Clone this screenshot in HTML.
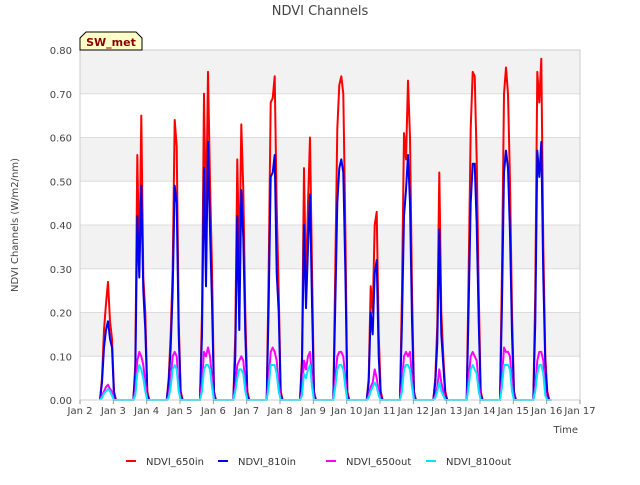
<!DOCTYPE html>
<html><head><meta charset="utf-8"><style>
body{margin:0;background:#fff;font-family:"Liberation Sans","DejaVu Sans",sans-serif}
</style></head><body>
<svg id="chart" width="640" height="480" xmlns="http://www.w3.org/2000/svg" font-family="DejaVu Sans, Liberation Sans, sans-serif">
<rect width="640" height="480" fill="#fff"/>
<g id="bands"></g><g id="grid"></g><g id="series"></g><g id="axes"></g>
<text x="320" y="15" text-anchor="middle" font-size="13" fill="#444">NDVI Channels</text>
<text transform="translate(18,225) rotate(-90)" text-anchor="middle" font-size="10" fill="#444">NDVI Channels (W/m2/nm)</text>
<text x="578" y="433" text-anchor="end" font-size="10" fill="#444">Time</text>
<g>
<path d="M80,50 L80,38 L86,32 L136,32 L142,38 L142,50 Z" fill="#ffffc8" stroke="#000" stroke-width="1"/>
<text x="111" y="46" text-anchor="middle" font-size="11" font-weight="bold" fill="#8b0000">SW_met</text>
</g>
<g id="legend"></g>
</svg>
<script>
const xTickLabels=["Jan 2","Jan 3","Jan 4","Jan 5","Jan 6","Jan 7","Jan 8","Jan 9","Jan 10","Jan 11","Jan 12","Jan 13","Jan 14","Jan 15","Jan 16","Jan 17"];
const yTicks=[0,0.1,0.2,0.3,0.4,0.5,0.6,0.7,0.8];
const seriesNames=["NDVI_650in","NDVI_810in","NDVI_650out","NDVI_810out"];
const seriesColors=["#ff0000","#0000ee","#ff00ff","#00e5ff"];
const dayOffsets=[-0.40,-0.34,-0.28,-0.22,-0.16,-0.10,-0.04,0.02,0.08,0.14];
const red650in=[
[0,0.05,0.16,0.22,0.27,0.18,0.14,0.02,0,0],
[0,0.08,0.56,0.30,0.65,0.28,0.20,0.02,0,0],
[0,0.05,0.15,0.30,0.64,0.58,0.18,0.02,0,0],
[0,0.20,0.70,0.40,0.75,0.50,0.30,0.02,0,0],
[0,0.15,0.55,0.30,0.63,0.48,0.20,0.02,0,0],
[0,0.30,0.68,0.69,0.74,0.44,0.25,0.02,0,0],
[0,0.10,0.53,0.25,0.45,0.60,0.30,0.02,0,0],
[0,0.30,0.62,0.72,0.74,0.70,0.40,0.02,0,0],
[0,0.05,0.26,0.20,0.40,0.43,0.15,0.02,0,0],
[0,0.25,0.61,0.55,0.73,0.60,0.25,0.02,0,0],
[0,0.05,0.17,0.52,0.20,0.10,0.02,0,0,0],
[0,0.30,0.62,0.75,0.74,0.55,0.25,0.02,0,0],
[0,0.30,0.70,0.76,0.70,0.50,0.20,0.02,0,0],
[0,0.25,0.75,0.68,0.78,0.35,0.10,0.02,0,0]];
const blue810in=[
[0,0.04,0.12,0.16,0.18,0.14,0.12,0.01,0,0],
[0,0.06,0.42,0.28,0.49,0.25,0.16,0.01,0,0],
[0,0.04,0.12,0.25,0.49,0.45,0.15,0.01,0,0],
[0,0.15,0.53,0.26,0.59,0.39,0.22,0.01,0,0],
[0,0.10,0.42,0.16,0.48,0.37,0.15,0.01,0,0],
[0,0.22,0.51,0.52,0.56,0.29,0.20,0.01,0,0],
[0,0.08,0.40,0.21,0.35,0.47,0.22,0.01,0,0],
[0,0.22,0.45,0.53,0.55,0.52,0.30,0.01,0,0],
[0,0.04,0.20,0.15,0.29,0.32,0.10,0.01,0,0],
[0,0.18,0.42,0.48,0.56,0.45,0.18,0.01,0,0],
[0,0.04,0.13,0.39,0.15,0.08,0.01,0,0,0],
[0,0.22,0.45,0.54,0.54,0.40,0.18,0.01,0,0],
[0,0.22,0.52,0.57,0.53,0.38,0.15,0.01,0,0],
[0,0.18,0.57,0.51,0.59,0.28,0.08,0.01,0,0]];
const mag650out=[
[0,0.01,0.02,0.03,0.035,0.025,0.02,0,0,0],
[0,0.02,0.09,0.11,0.10,0.08,0.04,0,0,0],
[0,0.01,0.05,0.10,0.11,0.10,0.03,0,0,0],
[0,0.04,0.11,0.10,0.12,0.10,0.05,0,0,0],
[0,0.03,0.08,0.09,0.10,0.09,0.04,0,0,0],
[0,0.05,0.11,0.12,0.11,0.09,0.04,0,0,0],
[0,0.02,0.09,0.07,0.10,0.11,0.05,0,0,0],
[0,0.05,0.10,0.11,0.11,0.10,0.05,0,0,0],
[0,0.01,0.03,0.04,0.07,0.05,0.02,0,0,0],
[0,0.04,0.10,0.11,0.10,0.11,0.05,0,0,0],
[0,0.01,0.03,0.07,0.04,0.02,0,0,0,0],
[0,0.05,0.10,0.11,0.10,0.09,0.04,0,0,0],
[0,0.05,0.12,0.11,0.11,0.10,0.04,0,0,0],
[0,0.03,0.09,0.11,0.11,0.09,0.02,0,0,0]];
const cyan810out=[
[0,0.005,0.015,0.02,0.025,0.02,0.01,0,0,0],
[0,0.01,0.06,0.08,0.07,0.05,0.02,0,0,0],
[0,0.005,0.03,0.07,0.08,0.07,0.02,0,0,0],
[0,0.02,0.07,0.08,0.08,0.07,0.03,0,0,0],
[0,0.02,0.05,0.07,0.07,0.06,0.02,0,0,0],
[0,0.03,0.08,0.08,0.08,0.06,0.02,0,0,0],
[0,0.01,0.06,0.05,0.07,0.08,0.03,0,0,0],
[0,0.03,0.07,0.08,0.08,0.07,0.03,0,0,0],
[0,0.005,0.02,0.03,0.04,0.03,0.01,0,0,0],
[0,0.02,0.07,0.08,0.08,0.07,0.03,0,0,0],
[0,0.005,0.02,0.04,0.02,0.01,0,0,0,0],
[0,0.03,0.07,0.08,0.07,0.06,0.02,0,0,0],
[0,0.03,0.08,0.08,0.08,0.07,0.02,0,0,0],
[0,0.02,0.06,0.08,0.08,0.06,0.01,0,0,0]];
const allSeries=[red650in,blue810in,mag650out,cyan810out];
const NS="http://www.w3.org/2000/svg";
const L=80,R=580,T=50,B=400;
const x=d=>L+(d/15)*(R-L);
const y=v=>B-(v/0.8)*(B-T);
function mk(tag,attrs,parent){const e=document.createElementNS(NS,tag);for(const k in attrs)e.setAttribute(k,attrs[k]);parent.appendChild(e);return e;}
const bands=document.getElementById('bands'),grid=document.getElementById('grid'),axes=document.getElementById('axes'),ser=document.getElementById('series'),leg=document.getElementById('legend');
for(let i=0;i<yTicks.length-1;i++){if(i%2===1){const r=mk('rect',{x:L,y:y(yTicks[i+1]),width:R-L,height:y(yTicks[i])-y(yTicks[i+1]),fill:'#f2f2f2'},bands);}}
yTicks.forEach(v=>{const l=mk('line',{x1:L,x2:R,y1:y(v),y2:y(v),stroke:'#dcdcdc','stroke-width':1},grid);
const t=mk('text',{x:L-8,y:y(v)+4,'text-anchor':'end','font-size':10,fill:'#444'},axes);t.textContent=v.toFixed(2);});
const fr=mk('rect',{x:L,y:T,width:R-L,height:B-T,fill:'none',stroke:'#ccc'},axes);
xTickLabels.forEach((s,i)=>{const t=mk('text',{x:x(i),y:B+14,'text-anchor':'middle','font-size':10,fill:'#444'},axes);t.textContent=s;
const tk=mk('line',{x1:x(i),x2:x(i),y1:B,y2:B+4,stroke:'#999'},axes);});
allSeries.forEach((days,si)=>{let pts=[];days.forEach((vals,di)=>{const k=di+1;vals.forEach((v,j)=>{pts.push(x(k+dayOffsets[j]).toFixed(1)+','+y(v).toFixed(1));});});
const p=mk('polyline',{points:pts.join(' '),fill:'none',stroke:seriesColors[si],'stroke-width':2,'stroke-linejoin':'round'},ser);
});
const lx=[126,218,326,426];
seriesNames.forEach((n,i)=>{const g=mk('g',{},leg);
mk('line',{x1:lx[i],x2:lx[i]+10,y1:461,y2:461,stroke:seriesColors[i],'stroke-width':2},g);
const t=mk('text',{x:lx[i]+20,y:465,'font-size':10,fill:'#333'},g);t.textContent=n;});
</script>
</body></html>
